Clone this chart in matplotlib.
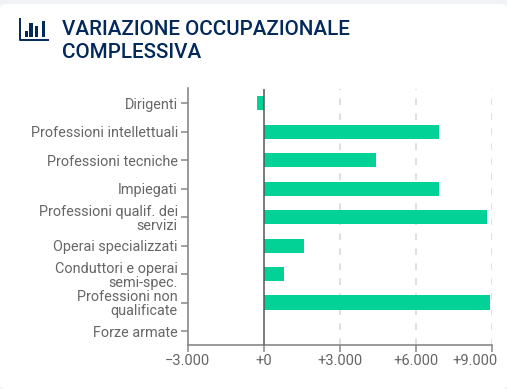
import matplotlib
matplotlib.use("Agg")
import matplotlib.pyplot as plt
from matplotlib.patches import FancyBboxPatch, Rectangle
from matplotlib.lines import Line2D
from matplotlib.transforms import ScaledTranslation

categories = ["Dirigenti", "Professioni intellettuali", "Professioni tecniche", "Impiegati",
              "Professioni qualif. dei\nservizi", "Operai specializzati",
              "Conduttori e operai\nsemi-spec.", "Professioni non\nqualificate", "Forze armate"]
values = [-270, 6910, 4430, 6920, 8800, 1590, 800, 8920, 0]
x_ticks = [-3000, 0, 3000, 6000, 9000]
x_labels = ["\u22123.000", "+0", "+3.000", "+6.000", "+9.000"]

W, H = 507, 389
plt.rcParams['font.family'] = ['Roboto', 'DejaVu Sans']
fig = plt.figure(figsize=(W / 100, H / 100), dpi=100, facecolor='#f0f2f5')

# white card behind everything
card = FancyBboxPatch((0, 0), 1, (H - 4) / H, boxstyle="round,pad=0,rounding_size=0.012",
                      transform=fig.transFigure, fc='white', ec='none', zorder=-1)
fig.add_artist(card)

# title
navy = '#02295a'
fig.text(62 / W, 1 - 29.5 / H, "VARIAZIONE OCCUPAZIONALE", color=navy, fontsize=14.9,
         fontweight='medium', va='center')
fig.text(62 / W, 1 - 52 / H, "COMPLESSIVA", color=navy, fontsize=14.9,
         fontweight='medium', va='center')

# chart icon
fig.add_artist(Line2D([19.5 / W, 19.5 / W, 49 / W], [1 - 18 / H, 1 - 40 / H, 1 - 40 / H],
                      color=navy, lw=1.4, solid_capstyle='butt'))
for x0, x1, top in [(24.7, 27.7, 31), (29.3, 32.7, 22.7), (35, 38, 26), (41.7, 45, 20.7)]:
    fig.add_artist(Rectangle((x0 / W, 1 - 37.3 / H), (x1 - x0) / W, (37.3 - top) / H,
                             transform=fig.transFigure, fc=navy, ec='none'))

# px positions of the plot area
left, right, top, bottom = 187.5, 492, 88.5, 345
ax = fig.add_axes([left / W, 1 - bottom / H, (right - left) / W, (bottom - top) / H])
ax.patch.set_alpha(0)

pos = list(range(len(categories)))
ax.barh(pos, values, height=0.5, color='#03d296', zorder=2)
ax.set_xlim(-3000, 9000)
ax.set_ylim(len(categories) - 1 + 0.49, -0.52)

ax.set_xticks(x_ticks)
ax.set_xticklabels(x_labels)
ax.set_yticks(pos)
ax.set_yticklabels(categories, linespacing=1.0)

for x in x_ticks[2:]:
    ax.axvline(x, color='#d9d9d9', lw=1.2, ls=(0, (4, 5)), zorder=1)
ax.axvline(0, color='#555555', lw=1.1, zorder=3)

for s in ['top', 'right']:
    ax.spines[s].set_visible(False)
for s in ['left', 'bottom']:
    ax.spines[s].set_color('#888888')
    ax.spines[s].set_linewidth(1.2)
ax.tick_params(axis='y', color='#888888', labelcolor='#666666', labelsize=10.35, width=1.1,
               length=5, pad=2)
ax.tick_params(axis='x', color='#888888', labelcolor='#666666', labelsize=10.5, width=1.1,
               length=5, pad=1.5)

# last tick label sits left of its tick so it stays in the card
last = ax.get_xticklabels()[-1]
last.set_transform(last.get_transform() + ScaledTranslation(-17 / 100, 0, fig.dpi_scale_trans))

plt.savefig("out.png", dpi=100, facecolor=fig.get_facecolor())
